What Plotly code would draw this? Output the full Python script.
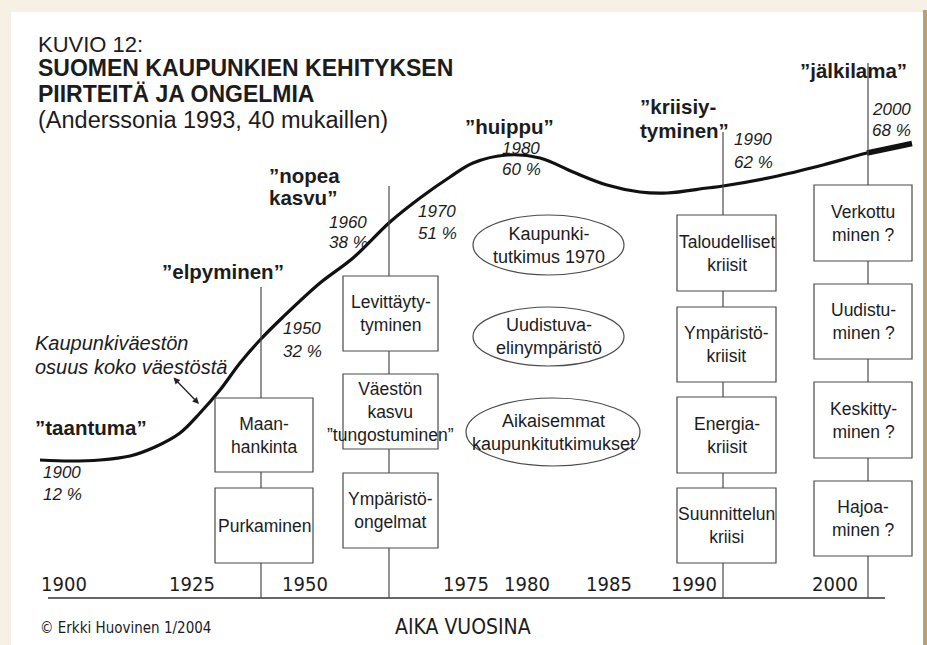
import plotly.graph_objects as go

# ---------------- data ----------------
marked_years = [1900, 1950, 1960, 1970, 1980, 1990, 2000]
urban_share_pct = [12, 32, 38, 51, 60, 62, 68]
phase_labels = ["taantuma", "elpyminen", "nopea<br>kasvu", "huippu",
                "kriisiy-<br>tyminen", "jälkilama"]
axis_years = [1900, 1925, 1950, 1975, 1980, 1985, 1990, 2000]
col1_boxes = ["Maan-<br>hankinta", "Purkaminen"]
col2_boxes = ["Levittäyty-<br>tyminen", "Väestön<br>kasvu<br>”tungostuminen”",
              "Ympäristö-<br>ongelmat"]
col3_boxes = ["Taloudelliset<br>kriisit", "Ympäristö-<br>kriisit",
              "Energia-<br>kriisit", "Suunnittelun<br>kriisi"]
col4_boxes = ["Verkottu<br>minen ?", "Uudistu-<br>minen ?",
              "Keskitty-<br>minen ?", "Hajoa-<br>minen ?"]
ellipse_texts = ["Kaupunki-<br>tutkimus 1970", "Uudistuva-<br>elinympäristö",
                 "Aikaisemmat<br>kaupunkitutkimukset"]
title_lines = ["KUVIO 12:", "SUOMEN KAUPUNKIEN KEHITYKSEN",
               "PIIRTEITÄ JA ONGELMIA", "(Anderssonia 1993, 40 mukaillen)"]
curve_note = "Kaupunkiväestön<br>osuus koko väestöstä"
credit = "© Erkki Huovinen 1/2004"
axis_title = "AIKA VUOSINA"

# ---------------- layout geometry (diagram pixel space) ----------------
W, H = 927, 645
curve_x = [40, 70, 100, 130, 155, 180, 200, 220, 240, 260, 283, 320, 353, 390,
           420, 450, 473, 507, 540, 573, 607, 640, 667, 707, 723, 773, 823, 867, 905]
curve_y = [460, 461, 460, 456, 447, 433, 413, 390, 363, 340, 317, 283, 258, 222,
           198, 177, 163, 155, 158, 172, 185, 192, 193, 188, 186, 177, 165, 153, 145]
# (left x, y of first line, line gap)
pct_label_pos = [(41, 472, 22), (281, 328, 23), (327, 222, 20), (416, 211, 22),
                 (500, 148, 21), (732, 139, 23), (870, 109, 21)]
phase_pos = [(33, 427, 0), (160, 271, 0), (267, 175, 22), (463, 126, 0),
             (638, 106, 24), (798, 70, 0)]
axis_tick_pos = [64, 192, 305, 466, 527, 609, 694, 835]
axis_y = 598
axis_x0, axis_x1 = 48, 885
columns = [
    dict(x=261, top=287, x0=215, x1=313, boxes=col1_boxes,
         ys=[(398, 472), (488, 563)]),
    dict(x=389, top=186, x0=343, x1=438, boxes=col2_boxes,
         ys=[(276, 351), (374, 449), (473, 548)]),
    dict(x=723, top=132, x0=677, x1=776, boxes=col3_boxes,
         ys=[(215, 291), (307, 382), (397, 473), (488, 563)]),
    dict(x=868, top=63, x0=814, x1=912, boxes=col4_boxes,
         ys=[(185, 261), (284, 359), (382, 458), (481, 556)]),
]
ellipses = [(473, 624, 215, 275), (473, 624, 307, 366), (466, 640, 398, 466)]

FONT = "Liberation Sans, Arial, sans-serif"
NARROW = "Liberation Sans Narrow, Arial Narrow, DejaVu Sans Condensed, sans-serif"
TXT = "#1c1c1c"
LINE = "#4a4a4a"

fig = go.Figure()
shapes = []
ann = []


def text_at(x, y, text, size, family=FONT, xanchor="left", align="left"):
    ann.append(dict(x=x, y=y, text=text, showarrow=False, xref="x", yref="y",
                    xanchor=xanchor, yanchor="middle", align=align,
                    font=dict(family=family, size=size, color=TXT)))


# page frame
shapes.append(dict(type="rect", xref="x", yref="y", x0=0, x1=W, y0=0, y1=H,
                   fillcolor="#f7f0e4", line_width=0, layer="below"))
shapes.append(dict(type="rect", xref="x", yref="y", x0=923, x1=W, y0=10, y1=H,
                   fillcolor="#b9a173", line_width=0, layer="below"))
shapes.append(dict(type="rect", xref="x", yref="y", x0=11, x1=923, y0=12, y1=H,
                   fillcolor="white", line_width=0, layer="below"))

# baseline of the time axis
shapes.append(dict(type="line", xref="x", yref="y", x0=axis_x0, x1=axis_x1,
                   y0=axis_y, y1=axis_y, line=dict(color="#333", width=1.6)))

# columns: vertical line + boxes
for col in columns:
    shapes.append(dict(type="line", xref="x", yref="y", x0=col["x"], x1=col["x"],
                       y0=col["top"], y1=axis_y, line=dict(color=LINE, width=1.2)))
    for text, (y0, y1) in zip(col["boxes"], col["ys"]):
        shapes.append(dict(type="rect", xref="x", yref="y", x0=col["x0"], x1=col["x1"],
                           y0=y0, y1=y1, fillcolor="white",
                           line=dict(color=LINE, width=1.2)))
        text_at((col["x0"] + col["x1"]) / 2, (y0 + y1) / 2, text, 17.5,
                xanchor="center", align="center")

# ellipses
for text, (x0, x1, y0, y1) in zip(ellipse_texts, ellipses):
    shapes.append(dict(type="circle", xref="x", yref="y", x0=x0, x1=x1, y0=y0, y1=y1,
                       line=dict(color=LINE, width=1.2)))
    text_at((x0 + x1) / 2, (y0 + y1) / 2, text, 18, xanchor="center", align="center")

# curve
fig.add_trace(go.Scatter(x=curve_x, y=curve_y, mode="lines",
                         line=dict(color="#111", width=3.2, shape="spline"),
                         hoverinfo="skip", showlegend=False))
fig.add_trace(go.Scatter(x=curve_x[-2:] + [912], y=curve_y[-2:] + [143.5], mode="lines",
                         line=dict(color="#111", width=5.5, shape="spline"),
                         hoverinfo="skip", showlegend=False))

# year / pct labels (two separate lines)
for yr, pct, (px, py, gap) in zip(marked_years, urban_share_pct, pct_label_pos):
    text_at(px, py, f"<i>{yr}</i>", 17)
    text_at(px, py + gap, f"<i>{pct} %</i>", 17)

# phase labels
for lab, (px, py, gap) in zip(phase_labels, phase_pos):
    parts = lab.split("<br>")
    parts[0] = "”" + parts[0]
    parts[-1] = parts[-1] + "”"
    for i, p in enumerate(parts):
        text_at(px, py + i * gap, f"<b>{p}</b>", 20.5)

# curve note and double arrow
note_lines = curve_note.split("<br>")
for i, p in enumerate(note_lines):
    text_at(33, 343 + i * 24, f"<i>{p}</i>", 20)
ann.append(dict(x=199, y=404, ax=172, ay=376, xref="x", yref="y", axref="x", ayref="y",
                text="", showarrow=True, arrowhead=2, startarrowhead=2,
                arrowside="end+start", arrowsize=1, arrowwidth=1.3, arrowcolor="#222"))

# title
title_sizes = [(22, False, 44), (23, True, 68), (23, True, 94), (23.5, False, 120)]
for line, (sz, bold, yy) in zip(title_lines, title_sizes):
    text_at(36, yy, f"<b>{line}</b>" if bold else line, sz)

# footer
text_at(38, 628, credit, 15, family=NARROW)
text_at(463, 627, axis_title, 21, family=NARROW, xanchor="center", align="center")

# timeline axis (x2) – labels only, baseline drawn as shape
fig.add_trace(go.Scatter(x=[axis_x0, axis_x1], y=[axis_y, axis_y], xaxis="x2", yaxis="y",
                         mode="lines", line=dict(width=0), hoverinfo="skip",
                         showlegend=False))

fig.update_layout(
    width=W, height=H, autosize=False,
    margin=dict(l=0, r=0, t=0, b=0),
    paper_bgcolor="white", plot_bgcolor="rgba(0,0,0,0)",
    xaxis=dict(range=[0, W], visible=False, fixedrange=True),
    yaxis=dict(range=[H, 0], visible=False, fixedrange=True),
    xaxis2=dict(domain=[0, 1], range=[0, W], anchor="free",
                position=(H - axis_y) / H, fixedrange=True,
                showline=False, showgrid=False, zeroline=False, ticks="",
                tickvals=axis_tick_pos, ticktext=[str(y) for y in axis_years],
                ticklabelposition="inside",
                tickfont=dict(family=NARROW, size=20, color=TXT)),
    shapes=shapes, annotations=ann,
)

fig.write_html("out.html", config={"displayModeBar": False},
               post_script="document.body.style.margin='0';")
